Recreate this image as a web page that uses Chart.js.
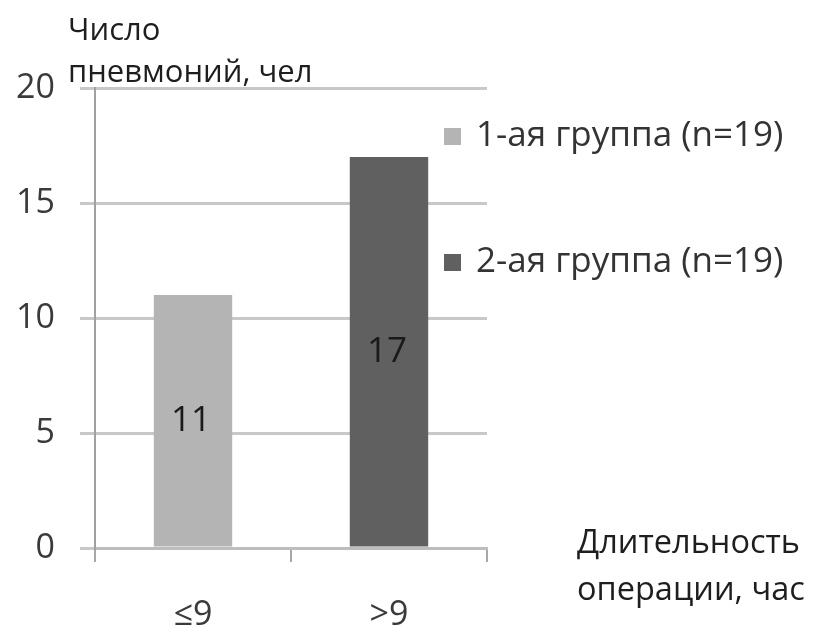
<!DOCTYPE html>
<html><head><meta charset="utf-8">
<script src="https://cdn.jsdelivr.net/npm/chart.js@4/dist/chart.umd.min.js"></script>
<style>html,body{margin:0;padding:0;background:#fff}#wrap{width:813px;height:627px}</style>
</head><body><div id="wrap"><canvas id="c" width="813" height="627"></canvas></div>
<script>
const categories = ['≤9', '>9'];
const group1Label = '1-ая группа (n=19)';
const group2Label = '2-ая группа (n=19)';
const group1Values = [11, null];
const group2Values = [null, 17];
const yTickValues = [0, 5, 10, 15, 20];
const yTitleLines = ['Число', 'пневмоний, чел'];
const xTitleLines = ['Длительность', 'операции, час'];

const FONT = "'Open Sans', 'DejaVu Sans', sans-serif";
const color1 = '#b4b4b4';
const color2 = '#606060';

const barLabels = {
  id: 'barLabels',
  afterDatasetsDraw(chart) {
    const ctx = chart.ctx;
    ctx.save();
    ctx.font = '35px ' + FONT;
    ctx.fillStyle = '#1a1a1a';
    ctx.textAlign = 'center';
    ctx.textBaseline = 'middle';
    chart.data.datasets.forEach((ds, i) => {
      const meta = chart.getDatasetMeta(i);
      meta.data.forEach((el, j) => {
        const v = ds.data[j];
        if (v === null || v === undefined) return;
        ctx.fillText(String(v), el.x - 2, (el.y + el.base) / 2);
      });
    });
    ctx.restore();
  }
};

const extras = {
  id: 'extras',
  afterDraw(chart) {
    const ctx = chart.ctx;
    ctx.save();
    // y axis title
    ctx.fillStyle = '#1e1e1e';
    ctx.textAlign = 'left';
    ctx.textBaseline = 'alphabetic';
    ctx.font = '31px ' + FONT;
    ctx.fillText(yTitleLines[0], 68, 40);
    ctx.fillText(yTitleLines[1], 68, 82);
    // x axis title
    ctx.font = '32.5px ' + FONT;
    ctx.fillText(xTitleLines[0], 577, 553);
    ctx.fillText(xTitleLines[1], 577, 600);
    // legend
    const items = chart.data.datasets.map(d => ({ label: d.label, color: d.backgroundColor }));
    const ys = [136, 262];
    ctx.font = '35px ' + FONT;
    ctx.textBaseline = 'middle';
    items.forEach((it, i) => {
      ctx.fillStyle = it.color;
      ctx.fillRect(444, ys[i] - 8, 17, 17);
      ctx.fillStyle = '#333';
      ctx.fillText(it.label, 476, ys[i]);
    });
    ctx.restore();
  }
};

new Chart(document.getElementById('c'), {
  type: 'bar',
  data: {
    labels: categories,
    datasets: [
      { label: group1Label, data: group1Values, backgroundColor: color1, categoryPercentage: 0.8, barPercentage: 0.5 },
      { label: group2Label, data: group2Values, backgroundColor: color2, categoryPercentage: 0.8, barPercentage: 0.5 }
    ]
  },
  options: {
    responsive: false,
    animation: false,
    devicePixelRatio: 1,
    layout: { padding: { top: 88, right: 326, left: 0, bottom: 0 } },
    plugins: { legend: { display: false }, tooltip: { enabled: false } },
    scales: {
      x: {
        stacked: true,
        afterFit(scale) { scale.height = 79; },
        grid: { display: true, drawOnChartArea: false, drawTicks: true, tickLength: 14, offset: true, color: '#a8a8a8', lineWidth: 2 },
        border: { display: true, color: '#bdbdbd', width: 3 },
        ticks: { padding: 33, color: '#3a3a3a', font: { size: 34, family: FONT } }
      },
      y: {
        stacked: true,
        min: 0, max: 20,
        afterFit(scale) { scale.width = 95; },
        afterBuildTicks(scale) { scale.ticks = yTickValues.map(v => ({ value: v })); },
        grid: { color: '#c8c8c8', lineWidth: 3, tickLength: 15, drawTicks: true },
        border: { display: true, color: '#a0a0a0', width: 2 },
        ticks: { padding: 25, color: '#3a3a3a', font: { size: 34, family: FONT } }
      }
    }
  },
  plugins: [barLabels, extras]
});
</script>
</body></html>
